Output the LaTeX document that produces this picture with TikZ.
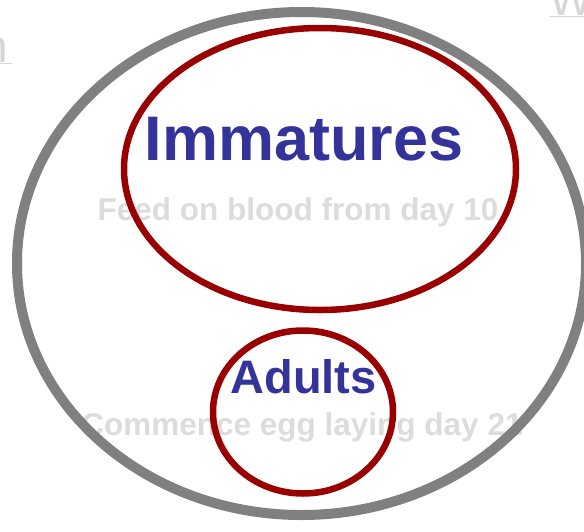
\documentclass[tikz,border=0pt]{standalone}
\usepackage{fontspec}
\setmainfont{Liberation Sans}
\usepackage{xcolor}
\usepackage{tikz}
\usetikzlibrary{shapes.geometric}
\definecolor{ringgray}{HTML}{808080}
\definecolor{ringred}{HTML}{990000}
\definecolor{titleblue}{HTML}{333399}
\definecolor{notegray}{HTML}{DCDCDC}
\definecolor{linkgray}{HTML}{D6D6D6}

\begin{document}
\begin{tikzpicture}[x=1pt,y=-1pt,
  ring/.style={ellipse,draw,inner sep=0pt},
  title/.style={anchor=base,inner sep=0pt,text=titleblue,font=\bfseries},
  note/.style={anchor=base,inner sep=0pt,text=notegray,
    font=\bfseries\fontsize{31.5}{32}\selectfont},
  link/.style={anchor=base,inner sep=0pt,text=linkgray,
    font=\fontsize{46}{46}\selectfont}]
\useasboundingbox (0,0) rectangle (584,531);
\clip (0,0) rectangle (584,531);
% cut-off link texts at the edges
\node[link,anchor=base east] (lnkleft) at (12,62) {\underline{n\kern4pt}};
\node[link,anchor=base west] (lnkright) at (549,15) {\underline{W}};
% grey notes under the rings
\node[note] (feed) at (298,220) {Feed on blood from day 10};
\node[note] (egg) at (302,435) {Commence egg laying day 21};
% rings
\node[ring,draw=ringgray,line width=10pt,minimum width=569pt,minimum height=503pt]
  (outer) at (301.5,263.5) {};
\node[ring,draw=ringred,line width=6.5pt,minimum width=392pt,minimum height=282pt]
  (immring) at (320,169) {};
\node[ring,draw=ringred,line width=6.5pt,minimum width=180pt,minimum height=163pt]
  (adultring) at (303,412) {};
% titles
\node[title,font=\bfseries\fontsize{63}{63}\selectfont] (imm) at (304,160) {Immatures};
\node[title,font=\bfseries\fontsize{47}{47}\selectfont] (adult) at (303.5,393) {Adults};
\end{tikzpicture}
\end{document}
